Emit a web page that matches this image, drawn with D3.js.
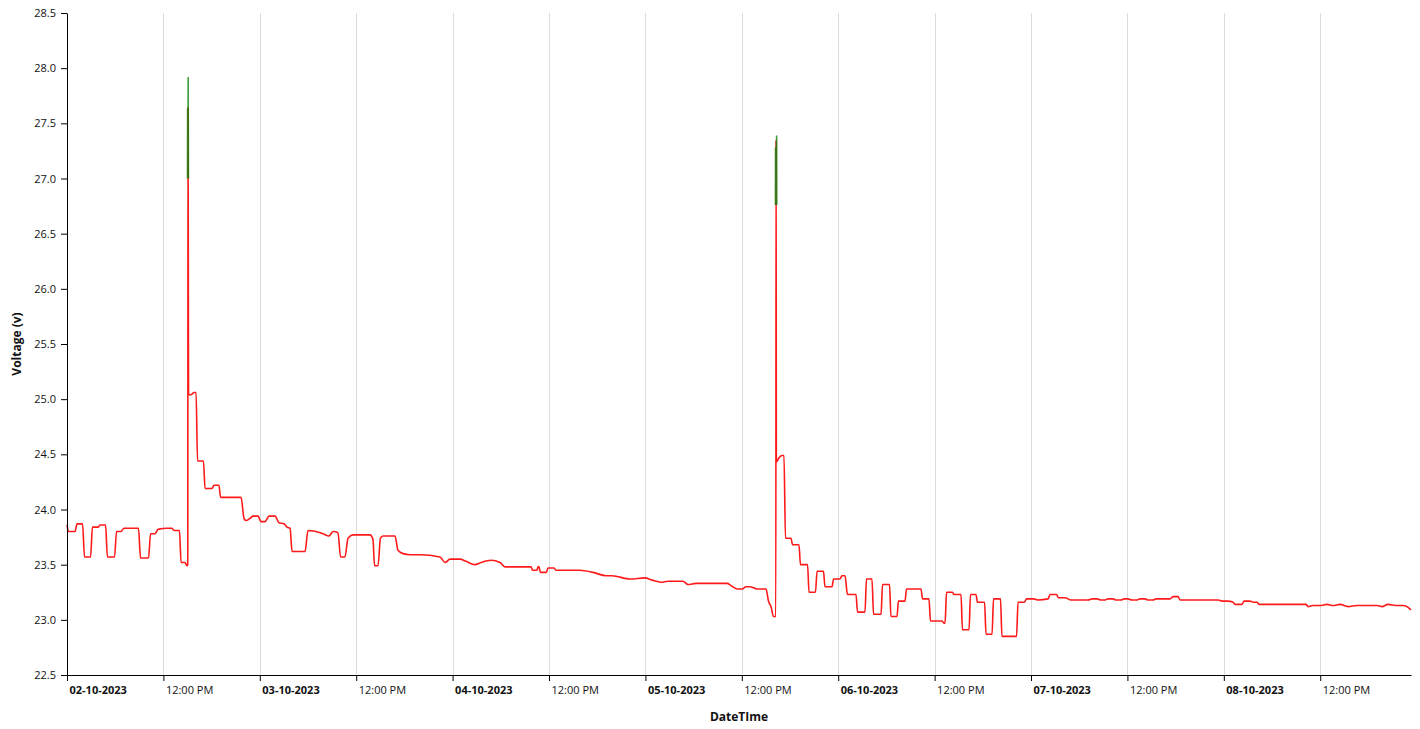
<!DOCTYPE html>
<html><head><meta charset="utf-8">
<script src="https://cdn.jsdelivr.net/npm/d3@7"></script>
<style>body{margin:0;background:#fff}svg{display:block;background:#fff}text{font-family:"Open Sans",sans-serif}</style>
</head><body><svg id="c" width="1420" height="729"></svg>
<script>
// ---- data ----
const timestamps = [
"2023-10-02 00:00","2023-10-02 00:11","2023-10-02 01:00","2023-10-02 01:15","2023-10-02 01:56","2023-10-02 02:11","2023-10-02 02:56","2023-10-02 03:10","2023-10-02 03:52","2023-10-02 04:06",
"2023-10-02 04:48","2023-10-02 05:02","2023-10-02 05:55","2023-10-02 06:10","2023-10-02 06:43","2023-10-02 07:06","2023-10-02 08:54","2023-10-02 09:09","2023-10-02 10:09","2023-10-02 10:24",
"2023-10-02 10:57","2023-10-02 11:20","2023-10-02 12:27","2023-10-02 13:04","2023-10-02 13:19","2023-10-02 14:00","2023-10-02 14:12","2023-10-02 14:41","2023-10-02 14:56","2023-10-02 15:02",
"2023-10-02 15:04","2023-10-02 15:08","2023-10-02 15:26","2023-10-02 15:49","2023-10-02 16:04","2023-10-02 16:15","2023-10-02 16:59","2023-10-02 17:11","2023-10-02 18:03","2023-10-02 18:18",
"2023-10-02 18:55","2023-10-02 19:07","2023-10-02 21:40","2023-10-02 22:02","2023-10-02 22:17","2023-10-02 22:47","2023-10-02 23:09","2023-10-02 23:47",
"2023-10-03 00:09","2023-10-03 00:39","2023-10-03 01:09","2023-10-03 01:54","2023-10-03 02:23","2023-10-03 03:01","2023-10-03 03:23","2023-10-03 03:46","2023-10-03 04:01","2023-10-03 05:38",
"2023-10-03 06:00","2023-10-03 07:00","2023-10-03 07:52","2023-10-03 08:37","2023-10-03 09:07","2023-10-03 09:44","2023-10-03 10:03","2023-10-03 10:36","2023-10-03 10:59","2023-10-03 11:36",
"2023-10-03 13:43","2023-10-03 14:05","2023-10-03 14:17","2023-10-03 14:43","2023-10-03 15:01","2023-10-03 15:20","2023-10-03 16:50","2023-10-03 17:12","2023-10-03 17:50","2023-10-03 18:42",
"2023-10-03 19:56","2023-10-03 22:26","2023-10-03 23:03","2023-10-03 23:41",
"2023-10-04 00:55","2023-10-04 01:40","2023-10-04 02:47","2023-10-04 03:32","2023-10-04 04:47","2023-10-04 05:54","2023-10-04 06:31","2023-10-04 09:46","2023-10-04 09:57","2023-10-04 10:30",
"2023-10-04 10:38","2023-10-04 10:45","2023-10-04 10:56","2023-10-04 11:41","2023-10-04 11:52","2023-10-04 12:37","2023-10-04 12:52","2023-10-04 15:51","2023-10-04 17:29","2023-10-04 19:06",
"2023-10-04 19:51","2023-10-04 22:05","2023-10-04 23:57",
"2023-10-05 00:49","2023-10-05 01:57","2023-10-05 02:49","2023-10-05 04:41","2023-10-05 05:18","2023-10-05 06:18","2023-10-05 10:10","2023-10-05 10:39","2023-10-05 11:24","2023-10-05 12:02",
"2023-10-05 12:31","2023-10-05 13:01","2023-10-05 13:54","2023-10-05 15:01","2023-10-05 15:19","2023-10-05 15:38","2023-10-05 15:57","2023-10-05 16:14","2023-10-05 16:16","2023-10-05 16:18",
"2023-10-05 16:38","2023-10-05 17:00","2023-10-05 17:15","2023-10-05 17:26","2023-10-05 18:07","2023-10-05 18:19","2023-10-05 19:07","2023-10-05 19:18","2023-10-05 20:11","2023-10-05 20:22",
"2023-10-05 21:10","2023-10-05 21:22","2023-10-05 22:10","2023-10-05 22:21","2023-10-05 23:14","2023-10-05 23:25",
"2023-10-06 00:13","2023-10-06 00:28","2023-10-06 00:51","2023-10-06 01:09","2023-10-06 02:13","2023-10-06 02:24","2023-10-06 03:20","2023-10-06 03:31","2023-10-06 04:12","2023-10-06 04:24",
"2023-10-06 05:20","2023-10-06 05:31","2023-10-06 06:23","2023-10-06 06:34","2023-10-06 07:19","2023-10-06 07:30","2023-10-06 08:19","2023-10-06 08:30","2023-10-06 10:18","2023-10-06 10:30",
"2023-10-06 11:18","2023-10-06 11:29","2023-10-06 12:55","2023-10-06 13:10","2023-10-06 13:18","2023-10-06 13:29","2023-10-06 14:14","2023-10-06 14:25","2023-10-06 15:17","2023-10-06 15:28",
"2023-10-06 16:17","2023-10-06 16:28","2023-10-06 17:09","2023-10-06 17:20","2023-10-06 18:13","2023-10-06 18:24","2023-10-06 19:09","2023-10-06 19:20","2023-10-06 20:12","2023-10-06 20:23",
"2023-10-06 22:12","2023-10-06 22:23","2023-10-06 23:11","2023-10-06 23:26",
"2023-10-07 00:22","2023-10-07 00:52","2023-10-07 02:07","2023-10-07 02:22","2023-10-07 03:10","2023-10-07 03:25","2023-10-07 04:14","2023-10-07 04:59","2023-10-07 07:06","2023-10-07 07:36",
"2023-10-07 08:13","2023-10-07 08:43","2023-10-07 09:13","2023-10-07 09:35","2023-10-07 10:12","2023-10-07 10:35","2023-10-07 11:12","2023-10-07 11:35","2023-10-07 12:04","2023-10-07 12:34",
"2023-10-07 13:12","2023-10-07 13:34","2023-10-07 14:11","2023-10-07 14:34","2023-10-07 15:11","2023-10-07 15:34","2023-10-07 17:18","2023-10-07 17:41","2023-10-07 18:18","2023-10-07 18:33",
"2023-10-07 23:17","2023-10-07 23:47",
"2023-10-08 00:31","2023-10-08 01:09","2023-10-08 01:24","2023-10-08 02:16","2023-10-08 02:31","2023-10-08 03:16","2023-10-08 03:38","2023-10-08 04:08","2023-10-08 04:23","2023-10-08 10:14",
"2023-10-08 10:29","2023-10-08 11:06","2023-10-08 11:59","2023-10-08 12:51","2023-10-08 13:36","2023-10-08 14:28","2023-10-08 15:28","2023-10-08 16:35","2023-10-08 19:04","2023-10-08 19:42",
"2023-10-08 20:26","2023-10-08 21:34","2023-10-08 22:18","2023-10-08 22:48","2023-10-08 23:18"
];
const voltage = [
23.86,23.80,23.80,23.87,23.87,23.57,23.57,23.84,23.84,23.86,
23.86,23.57,23.57,23.80,23.80,23.83,23.83,23.56,23.56,23.78,
23.78,23.82,23.83,23.83,23.81,23.81,23.52,23.52,23.49,23.50,
27.65,25.04,25.04,25.06,25.06,24.44,24.44,24.19,24.19,24.22,
24.22,24.11,24.11,23.92,23.90,23.92,23.94,23.94,
23.89,23.89,23.94,23.94,23.88,23.87,23.84,23.83,23.62,23.62,
23.81,23.80,23.78,23.76,23.80,23.79,23.57,23.57,23.74,23.77,
23.77,23.73,23.49,23.49,23.74,23.76,23.76,23.63,23.60,23.59,
23.59,23.57,23.52,23.55,
23.55,23.53,23.50,23.52,23.54,23.52,23.48,23.48,23.45,23.45,
23.48,23.48,23.43,23.43,23.47,23.47,23.45,23.45,23.43,23.40,
23.40,23.37,23.38,
23.36,23.34,23.35,23.35,23.32,23.33,23.33,23.31,23.28,23.28,
23.30,23.30,23.28,23.28,23.17,23.12,23.03,23.03,27.35,24.43,
24.47,24.49,24.49,23.74,23.74,23.68,23.68,23.50,23.50,23.25,
23.25,23.44,23.44,23.30,23.30,23.37,
23.37,23.40,23.40,23.23,23.23,23.07,23.07,23.37,23.37,23.05,
23.05,23.32,23.32,23.03,23.03,23.17,23.17,23.28,23.28,23.19,
23.19,22.99,22.99,22.97,22.97,23.25,23.25,23.23,23.23,22.91,
22.91,23.23,23.23,23.16,23.16,22.87,22.87,23.19,23.19,22.85,
22.85,23.16,23.16,23.19,
23.19,23.18,23.19,23.23,23.23,23.20,23.20,23.18,23.18,23.19,
23.19,23.18,23.18,23.19,23.19,23.18,23.18,23.19,23.19,23.18,
23.18,23.19,23.19,23.18,23.18,23.19,23.19,23.21,23.21,23.18,
23.18,23.17,
23.17,23.16,23.14,23.14,23.17,23.17,23.16,23.16,23.14,23.14,
23.12,23.13,23.13,23.14,23.13,23.14,23.12,23.13,23.13,23.12,
23.14,23.13,23.13,23.12,23.09
];
// charging (green) peaks
const chargeTimestamps = [
"2023-10-02 15:00","2023-10-02 15:01","2023-10-02 15:03","2023-10-02 15:05","2023-10-02 15:07",
"2023-10-05 16:11","2023-10-05 16:12","2023-10-05 16:15","2023-10-05 16:20","2023-10-05 16:21"
];
const chargeVoltage = [27.00,27.63,27.10,27.92,27.00, 26.76,27.28,26.90,27.39,26.76];
const chargeGroup = [1,1,1,1,1,2,2,2,2,2];
const yTicks = [22.5,23.0,23.5,24.0,24.5,25.0,25.5,26.0,26.5,27.0,27.5,28.0,28.5];
const xDomain = ["2023-10-02 00:00","2023-10-08 23:18"];
const yDomain = [22.5, 28.5];
const xTitle = "DateTIme";
const yTitle = "Voltage (v)";

// ---- drawing ----
const W = 1420, H = 729;
const m = {top: 13, right: 9, bottom: 54, left: 67};
const parse = d3.timeParse("%Y-%m-%d %H:%M");
const svg = d3.select("#c");
const x = d3.scaleTime().domain(xDomain.map(parse)).range([m.left, W - m.right]);
const y = d3.scaleLinear().domain(yDomain).range([H - m.bottom, m.top]);

const xTickVals = d3.timeHour.every(12).range(x.domain()[0], d3.timeMinute.offset(x.domain()[1], 1));
// gridlines
svg.append("g").selectAll("line").data(xTickVals.slice(1)).join("line")
  .attr("x1", d => Math.round(x(d)) + 0.5).attr("x2", d => Math.round(x(d)) + 0.5)
  .attr("y1", m.top).attr("y2", H - m.bottom)
  .attr("stroke", "#dcdcdc").attr("stroke-width", 1);

const series = timestamps.map((t, i) => ({t: parse(t), v: voltage[i]}));
const charge = chargeTimestamps.map((t, i) => ({t: parse(t), v: chargeVoltage[i], g: chargeGroup[i]}));
const line = d3.line().x(d => x(d.t)).y(d => y(d.v)).curve(d3.curveMonotoneX);

svg.append("path").datum(series).attr("d", line)
  .attr("fill", "none").attr("stroke", "#ff1a1a").attr("stroke-width", 1.6).attr("stroke-linejoin", "round");
for (const g of d3.groups(charge, d => d.g)) {
  svg.append("path").datum(g[1]).attr("d", d3.line().x(d => x(d.t)).y(d => y(d.v)))
    .attr("fill", "none").attr("stroke", "rgb(0,128,0)").attr("stroke-opacity", 0.75).attr("stroke-width", 1.6);
}

// axes
const fmtDay = d3.timeFormat("%d-%m-%Y"), fmtHour = d3.timeFormat("%I:%M %p");
const xAxis = svg.append("g").attr("transform", `translate(0,${H - m.bottom})`)
  .call(d3.axisBottom(x).tickValues(xTickVals).tickSize(6).tickPadding(5).tickSizeOuter(0)
    .tickFormat(d => d.getHours() === 0 ? fmtDay(d) : fmtHour(d)));
xAxis.selectAll("text").attr("text-anchor", "start").attr("dx", 2)
  .attr("font-size", 11).attr("fill", "#111")
  .attr("font-weight", d => d.getHours() === 0 ? "bold" : "normal")
  .style("font-family", '"Open Sans",sans-serif');
xAxis.select(".domain").attr("stroke", "#000");

const yAxis = svg.append("g").attr("transform", `translate(${m.left},0)`)
  .call(d3.axisLeft(y).tickValues(yTicks).tickFormat(d3.format(".1f")).tickSize(6).tickPadding(5).tickSizeOuter(0));
yAxis.selectAll("text").attr("font-size", 11).attr("fill", "#111").style("font-family", '"Open Sans",sans-serif');
yAxis.select(".domain").attr("stroke", "#000");

svg.append("text").attr("x", (m.left + W - m.right) / 2).attr("y", 721)
  .attr("text-anchor", "middle").attr("font-weight", "bold").attr("font-size", 12).attr("fill", "#111").text(xTitle);
svg.append("text").attr("transform", `translate(21,${(m.top + H - m.bottom) / 2}) rotate(-90)`)
  .attr("text-anchor", "middle").attr("font-weight", "bold").attr("font-size", 12).attr("fill", "#111").text(yTitle);
</script>
</body></html>
